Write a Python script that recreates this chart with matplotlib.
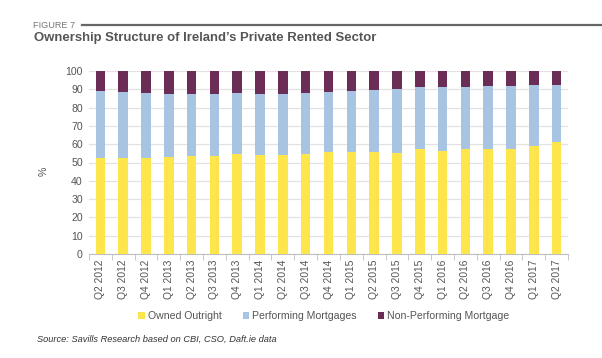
import matplotlib
matplotlib.use("Agg")
import matplotlib.pyplot as plt
import numpy as np

categories = ["Q2 2012", "Q3 2012", "Q4 2012", "Q1 2013", "Q2 2013", "Q3 2013", "Q4 2013",
              "Q1 2014", "Q2 2014", "Q3 2014", "Q4 2014", "Q1 2015", "Q2 2015", "Q3 2015",
              "Q4 2015", "Q1 2016", "Q2 2016", "Q3 2016", "Q4 2016", "Q1 2017", "Q2 2017"]
owned_outright = [52.6, 52.5, 52.5, 53.0, 53.7, 53.7, 54.5, 53.9, 53.9, 54.5, 55.8,
                  55.6, 55.8, 55.2, 57.2, 56.3, 57.2, 57.2, 57.2, 59.0, 61.1]
performing = [36.4, 35.8, 35.4, 34.6, 33.9, 33.5, 33.4, 33.7, 33.5, 33.4, 32.9,
              33.6, 34.0, 35.1, 33.8, 34.7, 34.2, 34.4, 34.6, 33.1, 31.2]
non_performing = [11.0, 11.7, 12.1, 12.4, 12.4, 12.8, 12.1, 12.4, 12.6, 12.1, 11.3,
                  10.8, 10.2, 9.7, 9.0, 9.0, 8.6, 8.4, 8.2, 7.9, 7.7]
series_names = ["Owned Outright", "Performing Mortgages", "Non-Performing Mortgage"]
colors = ["#FFE54C", "#A8C4E3", "#6B2D55"]

plt.rcParams['font.family'] = ['Liberation Sans', 'DejaVu Sans']

fig = plt.figure(figsize=(6.02, 3.58), dpi=100)
ax = fig.add_axes([89/602, 1-254/358, 479/602, 183/358])

x = np.arange(len(categories))
w = 0.42
b1 = np.array(owned_outright)
b2 = b1 + np.array(performing)
ax.bar(x, owned_outright, w, color=colors[0], label=series_names[0], zorder=3)
ax.bar(x, performing, w, bottom=b1, color=colors[1], label=series_names[1], zorder=3)
ax.bar(x, non_performing, w, bottom=b2, color=colors[2], label=series_names[2], zorder=3)

ax.set_xlim(-0.5, len(categories) - 0.5)
ax.set_ylim(0, 100)
ax.set_yticks(range(0, 101, 10))
ax.yaxis.grid(True, color="#E2E2E2", linewidth=0.9, zorder=0)
ax.set_axisbelow(True)
for s in ["top", "right", "left"]:
    ax.spines[s].set_visible(False)
ax.spines["bottom"].set_color("#BFBFBF")
ax.tick_params(axis="y", length=0, labelsize=7.6, colors="#555555", pad=4.5)
ax.set_xticks(x)
ax.set_xticklabels(categories, rotation=90, fontsize=7.4, color="#555555")
ax.tick_params(axis="x", length=0, pad=4)
ax.set_xticks(np.arange(-0.5, len(categories), 1), minor=True)
ax.tick_params(axis="x", which="minor", length=4, color="#BFBFBF")
ax.set_ylabel("%", fontsize=7.6, color="#555555")
ax.yaxis.set_label_coords(-0.085, 0.45)

leg = fig.legend(loc="center", bbox_to_anchor=(324/602, 1-316/358), ncol=3, frameon=False,
                 fontsize=7.6, handlelength=0.6, handleheight=0.6, handletextpad=0.3,
                 columnspacing=2.0, labelcolor="#555555")

fig.text(33/602, 1-25/358, "FIGURE 7", fontsize=6.6, color="#777777", va="center")
fig.add_artist(plt.Line2D([82/602, 1.0], [1-25/358, 1-25/358], color="#666666", linewidth=1.6))
fig.text(34/602, 1-38/358, "Ownership Structure of Ireland\u2019s Private Rented Sector",
         fontsize=9.45, fontweight="bold", color="#555555", va="center")
fig.text(37/602, 1-339/358, "Source: Savills Research based on CBI, CSO, Daft.ie data",
         fontsize=6.7, style="italic", color="#333333", va="center")

fig.savefig("out.png", dpi=100)
